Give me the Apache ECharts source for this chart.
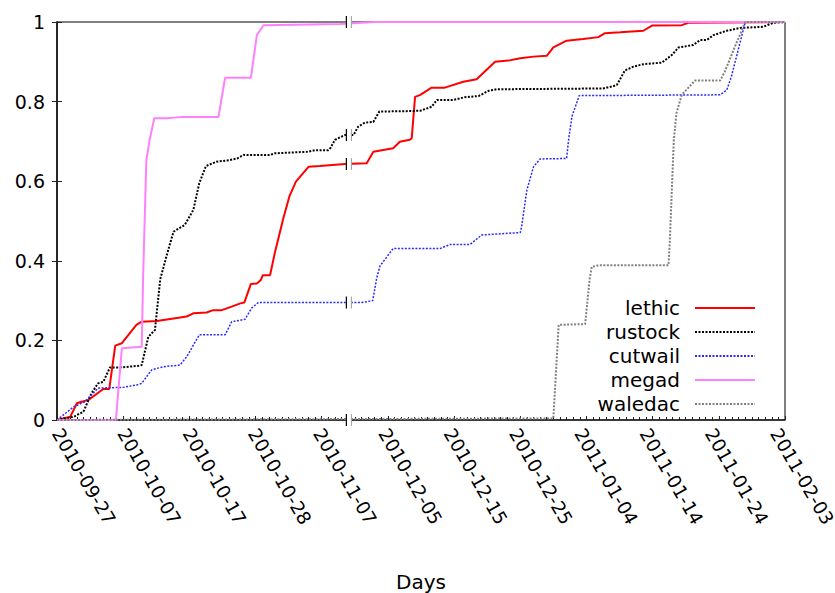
<!DOCTYPE html>
<html>
<head>
<meta charset="utf-8">
<script src="https://cdn.jsdelivr.net/npm/echarts@6/dist/echarts.min.js"></script>
<style>
  html, body { margin: 0; padding: 0; background: #fff; }
  #chart { width: 835px; height: 593px; }
</style>
</head>
<body>
<div id="chart"></div>
<script>
// Tick labels along the (broken) day axis, one per 10-day step.
const tickLabels = ['2010-09-27', '2010-10-07', '2010-10-17', '2010-10-28', '2010-11-07',
  '2010-12-05', '2010-12-15', '2010-12-25', '2011-01-04', '2011-01-14', '2011-01-24', '2011-02-03'];

// Cumulative fraction per botnet, as [day position, fraction].
const lethic = [[0,0],[2,0.008],[3,0.042],[3.7,0.046],[4.7,0.05],[7,0.078],[7.9,0.078],[8.8,0.187],[9.8,0.193],
  [12,0.239],[12.8,0.247],[15.1,0.249],[19.6,0.26],[20.6,0.268],[22.6,0.27],[23.6,0.276],[24.9,0.276],[26.4,0.285],
  [27.7,0.293],[28.3,0.295],[29.3,0.342],[30.2,0.343],[30.8,0.352],[31.1,0.364],[32.2,0.364],[32.9,0.419],[34.2,0.507],
  [35.1,0.561],[36.1,0.599],[38,0.636],[39.7,0.638],[43.5,0.643],[46.8,0.645],[47.8,0.674],[50.8,0.683],[51.8,0.699],
  [53.3,0.704],[53.6,0.708],[54.1,0.812],[54.9,0.817],[56.6,0.835],[58.6,0.835],[61.4,0.85],[63.4,0.856],[66.2,0.9],
  [68.2,0.903],[70,0.909],[72,0.913],[74,0.915],[75,0.936],[77,0.953],[79.5,0.957],[81.8,0.962],[82.8,0.972],
  [85.1,0.974],[88.6,0.978],[89.9,0.991],[94.4,0.992],[95.4,0.998],[110,1]];

const rustock = [[0,0],[2.5,0.008],[4,0.021],[5.2,0.067],[6.2,0.092],[7,0.096],[8,0.132],[9.5,0.132],[12.3,0.136],
  [12.8,0.138],[13.8,0.209],[14.8,0.226],[15.6,0.354],[16.6,0.415],[17.6,0.473],[19.3,0.49],[20.6,0.528],[21.5,0.595],
  [22.5,0.638],[24.1,0.649],[26.1,0.653],[27.2,0.657],[28.2,0.666],[32.2,0.666],[32.9,0.67],[38,0.674],[39,0.678],
  [41,0.678],[41.3,0.683],[42,0.704],[43.5,0.716],[44.8,0.716],[45.5,0.737],[46.5,0.747],[47.8,0.749],[48.7,0.775],
  [52.8,0.776],[54.9,0.777],[56.6,0.787],[57.4,0.804],[59.9,0.804],[61.6,0.811],[63.7,0.814],[65.2,0.827],[66.4,0.831],
  [82.5,0.833],[84.1,0.839],[84.6,0.842],[85.8,0.878],[87.1,0.888],[88.6,0.894],[91.4,0.898],[92.9,0.917],[93.9,0.936],
  [96.1,0.942],[97.2,0.955],[98.2,0.955],[99.2,0.967],[101.2,0.978],[103.2,0.985],[106.7,0.988],[108.2,0.998],[110,1]];

const cutwail = [[0,0],[2.5,0.033],[4.2,0.046],[6.2,0.08],[10,0.082],[12,0.088],[12.8,0.092],[14.3,0.126],[16.1,0.134],
  [18.6,0.138],[19.6,0.159],[21.5,0.214],[25.4,0.214],[26.4,0.247],[28.4,0.253],[29.4,0.281],[30.4,0.295],[46,0.295],
  [47.7,0.3],[48.3,0.356],[48.8,0.387],[50.3,0.42],[50.8,0.431],[57.9,0.431],[59.4,0.441],[62.4,0.441],[64.2,0.465],
  [70,0.471],[70.2,0.486],[71,0.578],[72,0.636],[73,0.656],[77,0.657],[77.3,0.704],[77.8,0.762],[78.9,0.815],
  [100.2,0.817],[101.2,0.829],[101.9,0.863],[104,1],[110,1]];

const megad = [[0,0],[8.9,0],[9.8,0.18],[12.8,0.184],[13,0.352],[13.5,0.653],[14,0.704],[14.7,0.758],[16.6,0.758],
  [18.6,0.761],[24.4,0.761],[25.4,0.86],[29.3,0.86],[30.2,0.967],[31.2,0.992],[42.8,0.995],[48,1],[110,1]];

const waledac = [[0,0],[75,0.004],[75.8,0.239],[79.8,0.241],[80.5,0.356],[80.8,0.385],[82,0.389],[92.4,0.389],
  [92.6,0.452],[92.9,0.578],[93.2,0.704],[93.6,0.771],[94.4,0.817],[96.4,0.853],[100.2,0.853],[100.9,0.875],
  [102.4,0.937],[104,1],[110,1]];

// Axis break: where the gap in dates sits, and the levels it cuts through.
const breakDay = 44.1;
const breakLevels = [1, 0, 0.716, 0.643, 0.295];

const FONT = 'DejaVu Sans';

const chart = echarts.init(document.getElementById('chart'), null, { renderer: 'svg' });

function lineSeries(name, data, color, type, width) {
  return {
    name: name,
    type: 'line',
    data: data,
    symbol: 'none',
    showSymbol: false,
    animation: false,
    lineStyle: { color: color, width: width, type: type },
    itemStyle: { color: color },
    z: 3
  };
}

const seriesDefs = [
  lineSeries('lethic', lethic, '#ff0000', 'solid', 2),
  lineSeries('rustock', rustock, '#000000', [2, 1.5], 2),
  lineSeries('cutwail', cutwail, '#2a2aff', [2, 1.5], 1.5),
  lineSeries('megad', megad, '#ff80ff', 'solid', 2),
  lineSeries('waledac', waledac, '#808080', [2, 1.5], 2)
];

// Small double-bar marks drawn where the day axis is broken.
seriesDefs.push({
  type: 'custom',
  coordinateSystem: 'cartesian2d',
  data: breakLevels.map(function (v) { return [breakDay, v]; }),
  z: 10,
  silent: true,
  animation: false,
  renderItem: function (params, api) {
    const p = api.coord([api.value(0), api.value(1)]);
    return {
      type: 'group',
      children: [
        { type: 'rect', shape: { x: p[0] - 3, y: p[1] - 6, width: 6, height: 12 }, style: { fill: '#fff' } },
        { type: 'line', shape: { x1: p[0] - 2.5, y1: p[1] - 6, x2: p[0] - 2.5, y2: p[1] + 6 }, style: { stroke: '#000', lineWidth: 1.2 } },
        { type: 'line', shape: { x1: p[0] + 2.5, y1: p[1] - 6, x2: p[0] + 2.5, y2: p[1] + 6 }, style: { stroke: '#999', lineWidth: 1 } }
      ]
    };
  }
});

const names = ['lethic', 'rustock', 'cutwail', 'megad', 'waledac'];
const legends = names.map(function (n, i) {
  return {
    data: [n],
    orient: 'vertical',
    align: 'right',
    right: 79,
    top: 298 + i * 24,
    padding: 0,
    itemWidth: 60,
    itemHeight: 12,
    selectedMode: false,
    itemStyle: { opacity: 0 },
    textStyle: { fontFamily: FONT, fontSize: 20, color: '#000', padding: [0, 10, 0, 0] }
  };
});

chart.setOption({
  animation: false,
  backgroundColor: '#fff',
  grid: {
    left: 57, right: 50, top: 22, bottom: 173,
    show: true, borderColor: '#000', borderWidth: 1,
    containLabel: false,
    outerBoundsMode: 'none'
  },
  legend: legends,
  xAxis: [{
    type: 'value',
    min: 0, max: 110, interval: 10,
    name: 'Days',
    nameLocation: 'middle',
    nameGap: 152,
    nameTextStyle: { fontFamily: FONT, fontSize: 20, color: '#000' },
    axisLine: { show: true, lineStyle: { color: '#222', width: 1.5 } },
    axisTick: { show: true, inside: true, length: 4, lineStyle: { color: '#222' } },
    minorTick: { show: true, splitNumber: 10, length: 3, lineStyle: { color: '#222' } },
    splitLine: { show: false },
    axisLabel: { show: false }
  }, {
    // Label row: the date labels run on a slightly tighter pitch than the ticks.
    type: 'value',
    position: 'bottom',
    min: 0, max: 111.5, interval: 10,
    axisLine: { show: false },
    axisTick: { show: false },
    splitLine: { show: false },
    axisLabel: {
      rotate: -60,
      margin: 10,
      fontFamily: FONT,
      fontSize: 18.5,
      color: '#000',
      hideOverlap: false,
      showMaxLabel: false,
      formatter: function (v) { return (v % 10 === 0 && tickLabels[v / 10]) ? tickLabels[v / 10] : ''; }
    }
  }],
  yAxis: [{
    type: 'value',
    min: 0, max: 1, interval: 0.2,
    position: 'left',
    axisLine: { show: true, lineStyle: { color: '#222', width: 1.5 } },
    axisTick: { show: true, inside: true, length: 5, lineStyle: { color: '#222' } },
    splitLine: { show: false },
    axisLabel: {
      margin: 12,
      fontFamily: FONT,
      fontSize: 19,
      color: '#000',
      formatter: function (v) { return (v === 0 || v === 1) ? String(v) : v.toFixed(1); }
    }
  }, {
    type: 'value',
    min: 0, max: 1, interval: 0.2,
    position: 'right',
    axisLine: { show: true, lineStyle: { color: '#222', width: 1.5 } },
    axisTick: { show: true, inside: true, length: 5, lineStyle: { color: '#222' } },
    splitLine: { show: false },
    axisLabel: { show: false }
  }],
  series: seriesDefs
});
</script>
</body>
</html>
